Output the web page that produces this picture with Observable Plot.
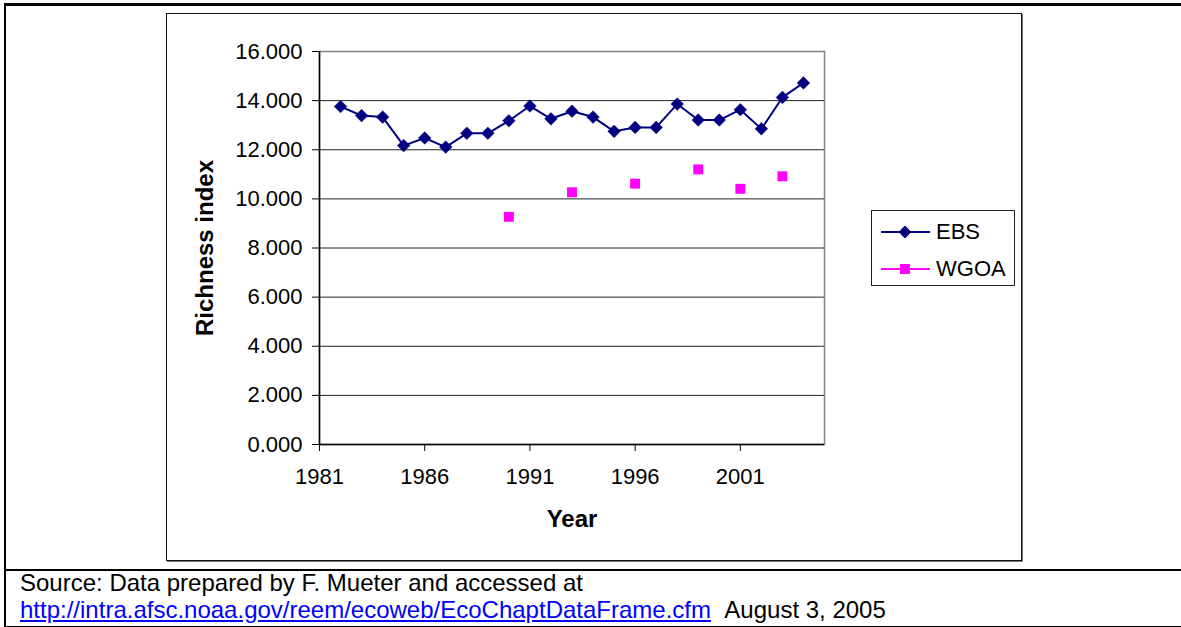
<!DOCTYPE html>
<html>
<head>
<meta charset="utf-8">
<script src="https://cdn.jsdelivr.net/npm/d3@7"></script>
<script src="https://cdn.jsdelivr.net/npm/@observablehq/plot@0.6"></script>
<style>
  html, body { margin: 0; padding: 0; background: #fff; }
  #wrap { position: relative; width: 1181px; height: 627px; overflow: hidden; font-family: Arial, "Liberation Sans", sans-serif; }
  #chart { position: absolute; left: 0; top: 0; }
  .line { position: absolute; background: #000; }
  #area { position: absolute; left: 166px; top: 13px; width: 854px; height: 546px; border: 1px solid #111; box-shadow: 1px 1px 0 #777; }
  #legend { position: absolute; left: 871px; top: 210px; width: 142px; height: 74px; border: 1px solid #222; background: #fff; font-size: 22px; color: #000; }
  #legend .item { position: absolute; left: 0; height: 30px; display: flex; align-items: center; }
  #legend svg { display: block; margin-left: 8px; }
  #legend span { margin-left: 6px; }
  #source { position: absolute; left: 20px; top: 569px; font-size: 24px; line-height: 27px; color: #000; white-space: nowrap; }
  #source a { color: #0000ff; text-decoration: underline; }
</style>
</head>
<body>
<div id="wrap">
  <div id="area"></div>
  <div id="chart"></div>
  <div id="legend"></div>
  <div class="line" style="left:4px; top:3px; width:1177px; height:3px;"></div>
  <div class="line" style="left:4px; top:3px; width:2px; height:624px;"></div>
  <div class="line" style="left:4px; top:569px; width:1177px; height:2px;"></div>
  <div class="line" style="left:4px; top:626px; width:1177px; height:1px;"></div>
  <div id="source"></div>
</div>
<script>
// ---- data ----
const ebsYears = [1982,1983,1984,1985,1986,1987,1988,1989,1990,1991,1992,1993,1994,1995,1996,1997,1998,1999,2000,2001,2002,2003,2004];
const ebsValues = [13.76,13.39,13.33,12.17,12.48,12.11,12.67,12.67,13.18,13.78,13.26,13.57,13.33,12.75,12.91,12.91,13.86,13.21,13.21,13.63,12.85,14.13,14.72];
const wgoaYears = [1990,1993,1996,1999,2001,2003];
const wgoaValues = [9.27,10.27,10.62,11.20,10.41,10.92];
const xTicks = [1981,1986,1991,1996,2001];
const yTicks = [0,2,4,6,8,10,12,14,16];
const gridTicks = [2,4,6,8,10,12,14];
const seriesNames = ["EBS","WGOA"];
const seriesColors = ["#000080","#ff00ff"];
const xTitle = "Year";
const yTitle = "Richness index";
const sourceLine1 = "Source: Data prepared by F. Mueter and accessed at";
const sourceUrl = "http://intra.afsc.noaa.gov/reem/ecoweb/EcoChaptDataFrame.cfm";
const sourceDate = "August 3, 2005";

const ebs = ebsYears.map((y, i) => ({year: y, value: ebsValues[i]}));
const wgoa = wgoaYears.map((y, i) => ({year: y, value: wgoaValues[i]}));

const chart = Plot.plot({
  width: 1181,
  height: 568,
  marginLeft: 319,
  marginRight: 357,
  marginTop: 51,
  marginBottom: 124,
  style: {fontFamily: 'Arial, "Liberation Sans", sans-serif', fontSize: "22px", color: "#000", background: "transparent", overflow: "visible"},
  x: {domain: [1981, 2005]},
  y: {domain: [0, 16]},
  marks: [
    Plot.gridY(gridTicks, {stroke: "#222", strokeOpacity: 1, strokeWidth: 1}),
    Plot.frame({stroke: "#808080", strokeWidth: 1.5}),
    Plot.ruleY([0], {stroke: "#000", strokeWidth: 1.5}),
    Plot.ruleX([1981], {stroke: "#000", strokeWidth: 1.5}),
    Plot.axisY({ticks: yTicks, tickFormat: d3.format(".3f"), tickSize: 7, tickPadding: 10, label: null}),
    Plot.axisX({ticks: xTicks, tickFormat: "d", tickSize: 7, tickPadding: 17, label: null}),
    Plot.text([xTitle], {frameAnchor: "bottom", dy: 75, text: d => d, fontWeight: "bold", fontSize: 24, textAnchor: "middle", lineAnchor: "middle"}),
    Plot.text([yTitle], {frameAnchor: "left", dx: -114, text: d => d, fontWeight: "bold", fontSize: 24, rotate: -90, textAnchor: "middle", lineAnchor: "middle"}),
    Plot.line(ebs, {x: "year", y: "value", stroke: seriesColors[0], strokeWidth: 2}),
    Plot.dot(ebs, {x: "year", y: "value", symbol: "diamond2", r: 5.7, fill: seriesColors[0], stroke: seriesColors[0], strokeWidth: 0.5}),
    Plot.dot(wgoa, {x: "year", y: "value", symbol: "square", r: 5.6, fill: seriesColors[1], stroke: "none"})
  ]
});
document.getElementById("chart").appendChild(chart);

// legend
const legend = document.getElementById("legend");
const markerSvg = [
  `<svg width="50" height="20"><line x1="1" y1="10" x2="50" y2="10" stroke="${seriesColors[0]}" stroke-width="2"/><path d="M25,3.5L31.5,10L25,16.5L18.5,10Z" fill="${seriesColors[0]}"/></svg>`,
  `<svg width="50" height="20"><line x1="1" y1="10" x2="50" y2="10" stroke="${seriesColors[1]}" stroke-width="2"/><rect x="20" y="5" width="10" height="10" fill="${seriesColors[1]}"/></svg>`
];
seriesNames.forEach((name, i) => {
  const item = document.createElement("div");
  item.className = "item";
  item.style.top = (i === 0 ? 6 : 43) + "px";
  item.innerHTML = markerSvg[i] + `<span>${name}</span>`;
  legend.appendChild(item);
});

// source
document.getElementById("source").innerHTML =
  `${sourceLine1}<br><a href="#">${sourceUrl}</a>&nbsp;&nbsp;${sourceDate}`;
</script>
</body>
</html>
